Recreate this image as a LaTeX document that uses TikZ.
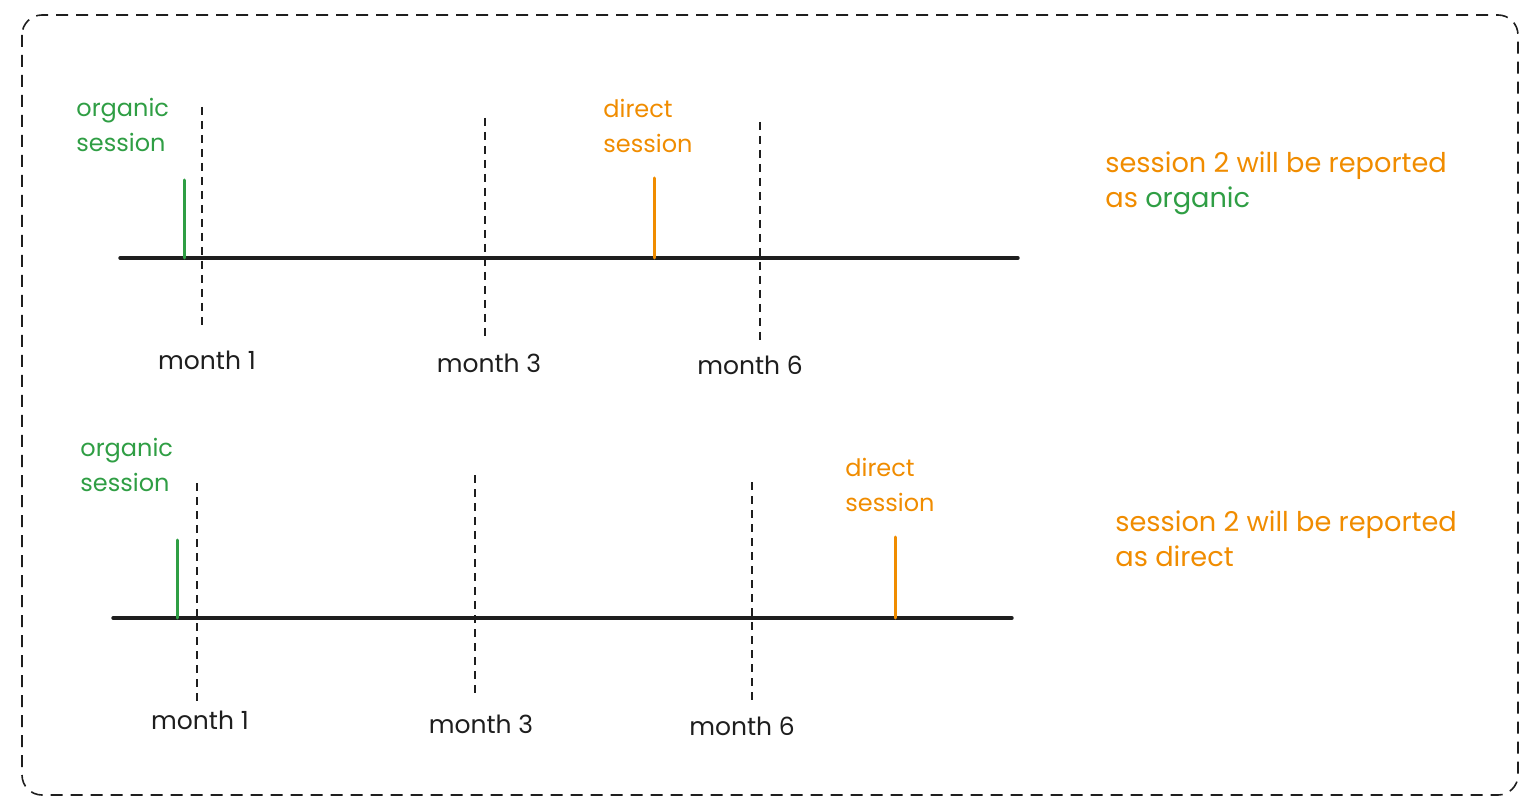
\documentclass[tikz,border=0pt]{standalone}
\usepackage{fontspec}
\setmainfont{Poppins}
\usepackage{xcolor}
\usetikzlibrary{positioning}
\definecolor{inkblack}{HTML}{1E1E1E}
\definecolor{orggreen}{HTML}{2F9E44}
\definecolor{dirorange}{HTML}{F08C00}

\begin{document}
\begin{tikzpicture}[x=0.5pt, y=-0.5pt, every node/.style={font=\fontsize{12}{17.5}\selectfont, inner sep=0pt}]
  \tikzset{
    axis/.style={inkblack, line width=1.7pt, line cap=round},
    monthline/.style={inkblack, line width=1.2pt, dash pattern=on 4pt off 3pt},
    tickgreen/.style={orggreen, line width=1.5pt, line cap=round},
    tickorange/.style={dirorange, line width=1.5pt, line cap=round},
    monthlabel/.style={inkblack, font=\fontsize{12.5}{14}\selectfont},
    sesslabel/.style={align=left, anchor=west},
    reportlabel/.style={align=left, anchor=west, font=\fontsize{13.6}{17.5}\selectfont}
  }
  \useasboundingbox (0,0) rectangle (1536,812);
  \draw[inkblack, line width=0.8pt, dash pattern=on 6pt off 4pt, rounded corners=10pt] (22,15) rectangle (1518,795);

  % first timeline
  \coordinate (a1) at (120,258);
  \coordinate (b1) at (1018,258);
  \draw[axis] (a1) -- (b1);
  \coordinate (m1top) at (202,107); \coordinate (m1bot) at (202,325);
  \coordinate (m3top) at (485,118); \coordinate (m3bot) at (485,338);
  \coordinate (m6top) at (760,122); \coordinate (m6bot) at (760,342);
  \foreach \m in {m1, m3, m6}
    \draw[monthline] (\m top) -- (\m bot);
  \node[monthlabel] (l11) at (207,360) {month 1};
  \node[monthlabel] (l13) at (489,363) {month 3};
  \node[monthlabel] (l16) at (750,365) {month 6};
  \coordinate (g1top) at (184,180); \coordinate (g1bot) at (184,258);
  \coordinate (o1top) at (654,178); \coordinate (o1bot) at (654,258);
  \draw[tickgreen] (g1top) -- (g1bot);
  \draw[tickorange] (o1top) -- (o1bot);
  \node[sesslabel, orggreen] (org1) at (76,125) {organic\\session};
  \node[sesslabel, dirorange] (dir1) at (603,126) {direct\\session};
  \node[reportlabel, dirorange] (res1) at (1105,183) {session 2 will be reported\\as \textcolor{orggreen}{organic}};

  % second timeline
  \coordinate (a2) at (113,618);
  \coordinate (b2) at (1012,618);
  \draw[axis] (a2) -- (b2);
  \coordinate (n1top) at (197,483); \coordinate (n1bot) at (197,705);
  \coordinate (n3top) at (475,475); \coordinate (n3bot) at (475,697);
  \coordinate (n6top) at (752,482); \coordinate (n6bot) at (752,703);
  \foreach \m in {n1, n3, n6}
    \draw[monthline] (\m top) -- (\m bot);
  \node[monthlabel] (l21) at (200,720) {month 1};
  \node[monthlabel] (l23) at (481,724) {month 3};
  \node[monthlabel] (l26) at (742,726) {month 6};
  \coordinate (g2top) at (177,540); \coordinate (g2bot) at (177,618);
  \coordinate (o2top) at (895,537); \coordinate (o2bot) at (895,618);
  \draw[tickgreen] (g2top) -- (g2bot);
  \draw[tickorange] (o2top) -- (o2bot);
  \node[sesslabel, orggreen] (org2) at (80,465) {organic\\session};
  \node[sesslabel, dirorange] (dir2) at (845,485) {direct\\session};
  \node[reportlabel, dirorange] (res2) at (1115,539) {session 2 will be reported\\as direct};
\end{tikzpicture}
\end{document}
